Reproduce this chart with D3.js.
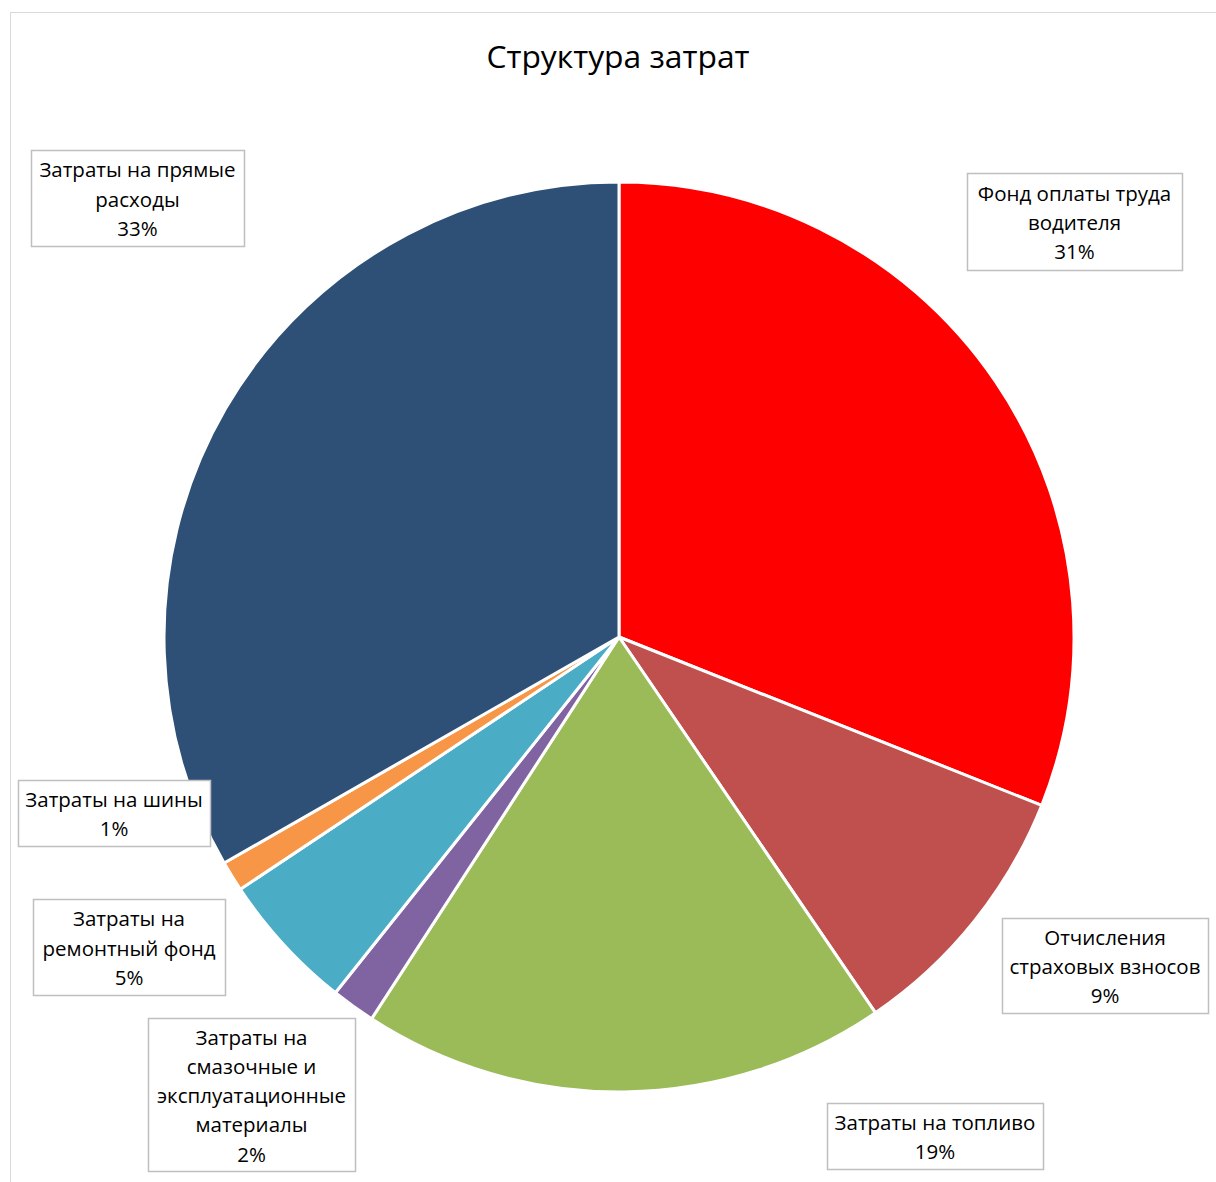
<!DOCTYPE html>
<html><head><meta charset="utf-8">
<script src="https://cdn.jsdelivr.net/npm/d3@7"></script>
<style>body{margin:0;background:#fff}svg{display:block}</style>
</head><body>
<svg id="c" width="1216" height="1182"></svg>
<script>
const title = "Структура затрат";
const categories = [
  "Фонд оплаты труда водителя",
  "Отчисления страховых взносов",
  "Затраты на топливо",
  "Затраты на смазочные и эксплуатационные материалы",
  "Затраты на ремонтный фонд",
  "Затраты на шины",
  "Затраты на прямые расходы"
];
const values = [31.06, 9.44, 18.7, 1.56, 4.94, 1.08, 33.3];
const percentLabels = ["31%", "9%", "19%", "2%", "5%", "1%", "33%"];
const labelLines = [
  ["Фонд оплаты труда", "водителя"],
  ["Отчисления", "страховых взносов"],
  ["Затраты на топливо"],
  ["Затраты на", "смазочные и", "эксплуатационные", "материалы"],
  ["Затраты на", "ремонтный фонд"],
  ["Затраты на шины"],
  ["Затраты на прямые", "расходы"]
];
const colors = ["#FF0000", "#C0504D", "#9BBB59", "#8064A2", "#4BACC6", "#F79646", "#2E5077"];

// label box layout (x, y, w, h)
const boxes = [
  [967, 173, 215, 97],
  [1002, 918, 206, 95],
  [827, 1103, 216, 66],
  [148, 1018, 207, 153],
  [33, 899, 192, 96],
  [18, 780, 192, 66],
  [31, 150, 213, 96]
];

const svg = d3.select("#c");
svg.append("rect").attr("x", 10.5).attr("y", 12.5).attr("width", 1220).attr("height", 1200)
  .attr("fill", "#fff").attr("stroke", "#d9d9d9").attr("stroke-width", 1);

const font = "'Open Sans', 'Noto Sans', sans-serif";
svg.append("text").attr("x", 618).attr("y", 68).attr("text-anchor", "middle")
  .attr("font-family", font).attr("font-size", 31.8).attr("fill", "#000")
  .text(title);

const cx = 619, cy = 637, R = 455;
const pie = d3.pie().sort(null).value(d => d)(values);
const arc = d3.arc().innerRadius(0).outerRadius(R);
const g = svg.append("g").attr("transform", `translate(${cx},${cy})`);
g.selectAll("path").data(pie).join("path")
  .attr("d", arc).attr("fill", (d, i) => colors[i])
  .attr("stroke", "#fff").attr("stroke-width", 3).attr("stroke-linejoin", "round");

const lh = 29.3;
boxes.forEach((b, i) => {
  const lg = svg.append("g");
  lg.append("rect").attr("x", b[0] + 0.5).attr("y", b[1] + 0.5).attr("width", b[2]).attr("height", b[3])
    .attr("fill", "#fff").attr("stroke", "#bfbfbf").attr("stroke-width", 1.5);
  const lines = labelLines[i].concat([percentLabels[i]]);
  const total = lines.length * lh;
  const top = b[1] + b[3] / 2 - total / 2;
  lines.forEach((t, j) => {
    lg.append("text").attr("x", b[0] + b[2] / 2).attr("y", top + lh * j + lh / 2 + 1.5)
      .attr("dy", "0.35em").attr("text-anchor", "middle")
      .attr("font-family", font).attr("font-size", 20.5).attr("fill", "#000").text(t);
  });
});
</script>
</body></html>
